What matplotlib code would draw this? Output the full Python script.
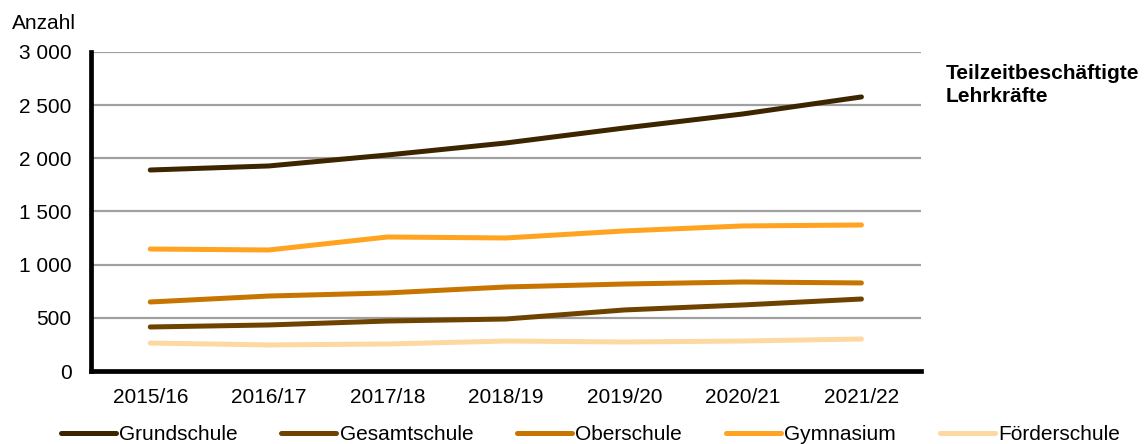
import matplotlib.pyplot as plt
from matplotlib.ticker import FuncFormatter

plt.rcParams['font.family'] = ['Liberation Sans', 'DejaVu Sans']

years = ['2015/16', '2016/17', '2017/18', '2018/19', '2019/20', '2020/21', '2021/22']
grundschule = [1890, 1928, 2031, 2144, 2285, 2417, 2577]
gesamtschule = [414, 433, 470, 489, 574, 621, 677]
oberschule = [649, 705, 734, 790, 818, 837, 828]
gymnasium = [1147, 1138, 1260, 1251, 1317, 1364, 1373]
foerderschule = [263, 245, 254, 282, 273, 282, 301]

series = [
    ('Grundschule', grundschule, '#3d2500'),
    ('Gesamtschule', gesamtschule, '#6e4300'),
    ('Oberschule', oberschule, '#c87400'),
    ('Gymnasium', gymnasium, '#ffa320'),
    ('Förderschule', foerderschule, '#fdd8a0'),
]

fs = 15

fig = plt.figure(figsize=(11.46, 4.44), dpi=100)
ax = fig.add_axes([0.0794, 0.1644, 0.724, 0.7186])

x = range(len(years))
for name, vals, col in series:
    ax.plot(x, vals, color=col, linewidth=3.6, solid_capstyle='round', label=name)

ax.set_xlim(-0.5, len(years) - 0.5)
ax.set_ylim(0, 3000)
ax.set_yticks(range(0, 3001, 500))
ax.yaxis.set_major_formatter(FuncFormatter(lambda v, p: f'{int(v):,}'.replace(',', ' ')))
ax.set_xticks(list(x))
ax.set_xticklabels(years)
ax.tick_params(axis='both', length=0, labelsize=fs)
ax.tick_params(axis='x', pad=12)
ax.tick_params(axis='y', pad=14)

ax.grid(axis='y', color='#a0a0a0', linewidth=1.6)
ax.set_axisbelow(True)
for s in ['top', 'right']:
    ax.spines[s].set_visible(False)
for s in ['left', 'bottom']:
    ax.spines[s].set_linewidth(3.4)
    ax.spines[s].set_color('black')

fig.text(0.010, 0.935, 'Anzahl', fontsize=fs, ha='left', va='baseline')
fig.text(0.825, 0.808, 'Teilzeitbeschäftigte\nLehrkräfte', fontsize=fs,
         fontweight='bold', ha='left', va='center', linespacing=1.3)

leg = fig.legend(loc='lower center', bbox_to_anchor=(0.515, -0.042), ncol=5, frameon=False,
                 fontsize=fs, handlelength=2.65, handletextpad=0.15, columnspacing=2.1)
for h in leg.get_lines():
    h.set_linewidth(3.6)

fig.savefig('out.png', dpi=100, facecolor='white')
